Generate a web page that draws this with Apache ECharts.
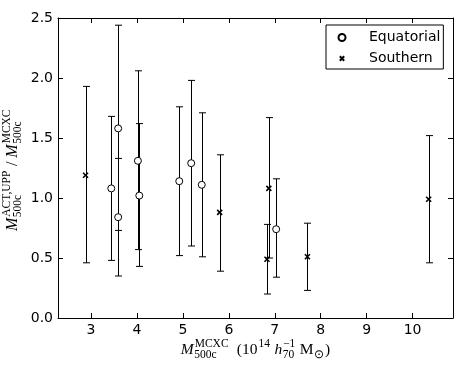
<!DOCTYPE html>
<html>
<head>
<meta charset="utf-8">
<script src="https://cdn.jsdelivr.net/npm/echarts@6/dist/echarts.min.js"></script>
<style>
  html, body { margin: 0; padding: 0; background: #fff; }
  #chart { width: 463px; height: 371px; }
</style>
</head>
<body>
<div id="chart"></div>
<script>
// equatorial clusters: mass (1e14 h70^-1 Msun), ratio, lower / upper error bar ends
var eqMass  = [3.44, 3.59, 3.59, 4.02, 4.05, 4.92, 5.18, 5.41, 7.03];
var eqRatio = [1.08, 1.58, 0.84, 1.31, 1.02, 1.14, 1.29, 1.11, 0.74];
var eqLow   = [0.48, 0.35, 0.73, 0.57, 0.43, 0.52, 0.60, 0.51, 0.34];
var eqHigh  = [1.68, 2.44, 1.33, 2.06, 1.62, 1.76, 1.98, 1.71, 1.16];

// southern clusters
var soMass  = [2.88, 5.80, 6.83, 6.87, 7.71, 10.35];
var soRatio = [1.19, 0.88, 0.49, 1.08, 0.51, 0.99];
var soLow   = [0.46, 0.39, 0.20, 0.50, 0.23, 0.46];
var soHigh  = [1.93, 1.36, 0.78, 1.67, 0.79, 1.52];

var xTicks = [3, 4, 5, 6, 7, 8, 9, 10];
var seriesNames = ['Equatorial', 'Southern'];

var chart = echarts.init(document.getElementById('chart'));

var measureCtx = document.createElement('canvas').getContext('2d');
var SERIF = '"Liberation Serif"';

// lays out a mathtext-like label: main text with stacked super/subscripts
function mathPieces(tokens, mainSize, scriptSize) {
  var pieces = [];
  var x = 0;
  tokens.forEach(function (tk) {
    var font = (tk.it ? 'italic ' : '') + mainSize + 'px ' + SERIF;
    measureCtx.font = font;
    pieces.push({ text: tk.t, x: x, dy: 0, font: font, size: mainSize });
    x += measureCtx.measureText(tk.t).width;
    var sf = scriptSize + 'px ' + SERIF;
    measureCtx.font = sf;
    var w = 0;
    if (tk.sup) {
      pieces.push({ text: tk.sup, x: x + 1, dy: -7.5, font: sf, size: scriptSize });
      w = Math.max(w, measureCtx.measureText(tk.sup).width);
    }
    if (tk.sub) {
      pieces.push({ text: tk.sub, x: x + 0.5, dy: 3.5, font: sf, size: scriptSize });
      w = Math.max(w, measureCtx.measureText(tk.sub).width);
    }
    if (w) x += w + 1.5;
  });
  return { pieces: pieces, width: x };
}

function toTexts(layout) {
  return layout.pieces.map(function (p) {
    return {
      type: 'text',
      x: p.x,
      y: p.dy - 0.34 * p.size,
      style: { text: p.text, font: p.font, fill: '#000', verticalAlign: 'middle', align: 'left' }
    };
  });
}

var xLab = mathPieces([
  { t: 'M', it: true, sup: 'MCXC', sub: '500c' },
  { t: '  (10', sup: '14' },
  { t: ' ' },
  { t: 'h', it: true, sup: '\u22121', sub: '70' },
  { t: ' M', sub: '\u2299' },
  { t: ')' }
], 15.5, 11.5);

var yLab = mathPieces([
  { t: 'M', it: true, sup: 'ACT,UPP', sub: '500c' },
  { t: ' / ' },
  { t: 'M', it: true, sup: 'MCXC', sub: '500c' }
], 16, 11.5);

function renderErr(params, api) {
  var x = api.value(0);
  var top = api.coord([x, api.value(2)]);
  var bot = api.coord([x, api.value(1)]);
  var cx = Math.round(top[0]) + 0.5;
  var w = 3.5;
  var st = { stroke: '#000', lineWidth: 1 };
  return {
    type: 'group',
    children: [
      { type: 'line', shape: { x1: cx, y1: top[1], x2: cx, y2: bot[1] }, style: st },
      { type: 'line', shape: { x1: cx - w, y1: top[1], x2: cx + w, y2: top[1] }, style: st },
      { type: 'line', shape: { x1: cx - w, y1: bot[1], x2: cx + w, y2: bot[1] }, style: st }
    ]
  };
}

var tickFont = { color: '#000', fontSize: 14, fontFamily: 'DejaVu Sans' };

function xAxisDef(pos, labels) {
  return {
    type: 'value', position: pos, min: 2.28, max: 10.88,
    axisLine: { show: true, onZero: false, lineStyle: { color: '#000', width: 1 } },
    axisTick: { show: true, inside: true, length: 5, customValues: xTicks, lineStyle: { color: '#000' } },
    axisLabel: Object.assign({ show: labels, margin: 5, customValues: xTicks }, tickFont),
    splitLine: { show: false }
  };
}
function yAxisDef(pos, labels) {
  return {
    type: 'value', position: pos, min: 0, max: 2.5, interval: 0.5,
    axisLine: { show: true, onZero: false, lineStyle: { color: '#000', width: 1 } },
    axisTick: { show: true, inside: true, length: 5, lineStyle: { color: '#000' } },
    axisLabel: Object.assign({ show: labels, margin: 5, formatter: function (v) { return v.toFixed(1); } }, tickFont),
    splitLine: { show: false }
  };
}

chart.setOption({
  animation: false,
  backgroundColor: '#fff',
  grid: { left: 58, right: 10, top: 18, bottom: 53 },
  xAxis: [xAxisDef('bottom', true), xAxisDef('top', false)],
  yAxis: [yAxisDef('left', true), yAxisDef('right', false)],
  legend: {
    data: [
      { name: seriesNames[0] },
      { name: seriesNames[1], icon: 'path://M-3,-3M0,0L10,10M10,0L0,10M13,13' }
    ],
    orient: 'vertical',
    left: 326, top: 25,
    borderColor: '#000', borderWidth: 1, borderRadius: 0, backgroundColor: '#fff',
    padding: [5, 3, 3, 10],
    itemWidth: 20, itemHeight: 7, itemGap: 6,
    textStyle: { fontSize: 14, fontFamily: 'DejaVu Sans', color: '#000', lineHeight: 15, padding: [0, 0, 0, 12] }
  },
  graphic: [
    {
      type: 'group',
      x: 255.5 - xLab.width / 2, y: 355,
      children: toTexts(xLab)
    },
    {
      type: 'group',
      x: 18, y: 170 + yLab.width / 2,
      rotation: Math.PI / 2,
      children: toTexts(yLab)
    }
  ],
  series: [
    {
      type: 'custom', name: 'eqErr', renderItem: renderErr, z: 2,
      data: eqMass.map(function (m, i) { return [m, eqLow[i], eqHigh[i]]; })
    },
    {
      type: 'custom', name: 'soErr', renderItem: renderErr, z: 2,
      data: soMass.map(function (m, i) { return [m, soLow[i], soHigh[i]]; })
    },
    {
      type: 'scatter', name: seriesNames[0], z: 3,
      symbol: 'circle', symbolSize: 7,
      itemStyle: { color: '#fff', borderColor: '#000', borderWidth: 1, opacity: 1 },
      data: eqMass.map(function (m, i) { return [m, eqRatio[i]]; })
    },
    {
      type: 'scatter', name: seriesNames[1], z: 3,
      symbol: 'path://M0,0L10,10M10,0L0,10', symbolSize: 5,
      itemStyle: { color: 'none', borderColor: '#000', borderWidth: 1.6, opacity: 1 },
      data: soMass.map(function (m, i) { return [m, soRatio[i]]; })
    }
  ]
});
</script>
</body>
</html>
